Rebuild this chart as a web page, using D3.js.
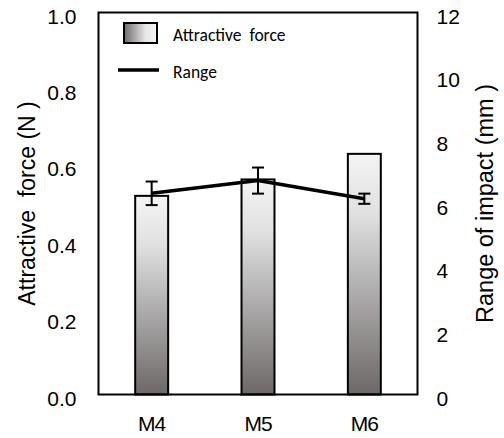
<!DOCTYPE html>
<html>
<head>
<meta charset="utf-8">
<script src="https://cdn.jsdelivr.net/npm/d3@7"></script>
<style>
  html, body { margin: 0; padding: 0; background: #fff; }
  svg { display: block; }
  text.pre { white-space: pre; }
</style>
</head>
<body>
<script>
// data
var categories = ["M4", "M5", "M6"];
var forceValues = [0.52, 0.563, 0.63];
var rangeValues = [6.32, 6.72, 6.15];
var rangeErrors = [0.37, 0.41, 0.16];
var leftTicks = [0, 0.2, 0.4, 0.6, 0.8, 1.0];
var rightTicks = [0, 2, 4, 6, 8, 10, 12];

var width = 504, height = 438;
var margin = {top: 12.5, right: 86.5, bottom: 43.5, left: 98.5};
var plotW = width - margin.left - margin.right;
var plotH = height - margin.top - margin.bottom;

var svg = d3.select("body").append("svg")
  .attr("width", width).attr("height", height);

//GRADIENTS
var defs = svg.append("defs");
var barGrad = defs.append("linearGradient").attr("id", "barGrad")
  .attr("x1", 0).attr("y1", 0).attr("x2", 0).attr("y2", 1);
barGrad.append("stop").attr("offset", "0%").attr("stop-color", "#f4f4f4");
barGrad.append("stop").attr("offset", "25%").attr("stop-color", "#e0e0e0");
barGrad.append("stop").attr("offset", "63%").attr("stop-color", "#a5a3a3");
barGrad.append("stop").attr("offset", "100%").attr("stop-color", "#6d6867");
var swGrad = defs.append("linearGradient").attr("id", "swatchGrad")
  .attr("x1", 0).attr("y1", 0).attr("x2", 1).attr("y2", 0);
swGrad.append("stop").attr("offset", "0%").attr("stop-color", "#6f6a69");
swGrad.append("stop").attr("offset", "65%").attr("stop-color", "#e6e6e6");
swGrad.append("stop").attr("offset", "100%").attr("stop-color", "#f4f4f4");

var g = svg.append("g").attr("transform", "translate(" + margin.left + "," + margin.top + ")");

var x = d3.scaleBand().domain(categories).range([0, plotW])
  .paddingInner(0.69).paddingOuter(0.345);
var yLeft = d3.scaleLinear().domain([0, 1]).range([plotH, 0]);
var yRight = d3.scaleLinear().domain([0, 12]).range([plotH, 0]);

var tickFont = "'Liberation Sans', Arial, sans-serif";

// left axis
var leftAxis = g.append("g").call(d3.axisLeft(yLeft).tickValues(leftTicks)
  .tickFormat(d3.format(".1f")).tickSize(0).tickPadding(22));
leftAxis.select(".domain").remove();
leftAxis.selectAll("text").attr("font-family", tickFont).attr("font-size", "21px")
  .attr("fill", "#000").attr("dy", "0.5em");

// right axis
var rightAxis = g.append("g").attr("transform", "translate(" + plotW + ",0)")
  .call(d3.axisRight(yRight).tickValues(rightTicks).tickSize(0).tickPadding(19));
rightAxis.select(".domain").remove();
rightAxis.selectAll("text").attr("font-family", tickFont).attr("font-size", "21px")
  .attr("fill", "#000").attr("dy", "0.5em");

// bottom axis
var bottomAxis = g.append("g").attr("transform", "translate(0," + plotH + ")")
  .call(d3.axisBottom(x).tickSize(0).tickPadding(22));
bottomAxis.select(".domain").remove();
bottomAxis.selectAll("text").attr("font-family", tickFont).attr("font-size", "21px")
  .attr("fill", "#000").attr("letter-spacing", "-1px");

// bars
g.selectAll("rect.bar").data(forceValues).enter().append("rect")
  .attr("class", "bar")
  .attr("x", function(d, i){ return x(categories[i]); })
  .attr("y", function(d){ return yLeft(d); })
  .attr("width", x.bandwidth())
  .attr("height", function(d){ return plotH - yLeft(d); })
  .attr("fill", "url(#barGrad)")
  .attr("stroke", "#000")
  .attr("stroke-width", 2);

// frame
g.append("rect").attr("x", 0).attr("y", 0).attr("width", plotW).attr("height", plotH)
  .attr("fill", "none").attr("stroke", "#000").attr("stroke-width", 2);

// range line
var line = d3.line()
  .x(function(d, i){ return x(categories[i]) + x.bandwidth() / 2; })
  .y(function(d){ return yRight(d); });
g.append("path").attr("d", line(rangeValues))
  .attr("fill", "none").attr("stroke", "#000").attr("stroke-width", 3.5)
  .attr("stroke-linejoin", "round");

// error bars
var capW = 6;
rangeValues.forEach(function(v, i){
  var cx = x(categories[i]) + x.bandwidth() / 2;
  var top = yRight(v + rangeErrors[i]), bot = yRight(v - rangeErrors[i]);
  var eb = g.append("g").attr("stroke", "#000").attr("stroke-width", 2);
  eb.append("line").attr("x1", cx).attr("x2", cx).attr("y1", top).attr("y2", bot);
  eb.append("line").attr("x1", cx - capW).attr("x2", cx + capW).attr("y1", top).attr("y2", top);
  eb.append("line").attr("x1", cx - capW).attr("x2", cx + capW).attr("y1", bot).attr("y2", bot);
});

// axis titles
svg.append("text").attr("class", "pre").text("Attractive  force (N )")
  .attr("transform", "translate(27," + (margin.top + plotH / 2) + ") rotate(-90)")
  .attr("text-anchor", "middle").attr("dominant-baseline", "central")
  .attr("font-family", tickFont).attr("font-size", "23px").attr("fill", "#000");
svg.append("text").attr("class", "pre").text("Range of impact (mm )")
  .attr("transform", "translate(485," + (margin.top + plotH / 2) + ") rotate(-90)")
  .attr("text-anchor", "middle").attr("dominant-baseline", "central")
  .attr("font-family", tickFont).attr("font-size", "23.5px").attr("fill", "#000");

// legend
var legFont = "Carlito, Calibri, 'Open Sans', sans-serif";
var leg = svg.append("g");
leg.append("rect").attr("x", 124).attr("y", 23).attr("width", 33).attr("height", 20)
  .attr("fill", "url(#swatchGrad)").attr("stroke", "#000").attr("stroke-width", 2);
leg.append("text").attr("class", "pre").text("Attractive  force")
  .attr("x", 173).attr("y", 35).attr("dominant-baseline", "central")
  .attr("font-family", legFont).attr("font-size", "17.5px").attr("fill", "#000");
leg.append("line").attr("x1", 118).attr("x2", 159).attr("y1", 70).attr("y2", 70)
  .attr("stroke", "#000").attr("stroke-width", 3.5);
leg.append("text").text("Range")
  .attr("x", 173).attr("y", 72).attr("dominant-baseline", "central")
  .attr("font-family", legFont).attr("font-size", "17.5px").attr("fill", "#000");
</script>
</body>
</html>
